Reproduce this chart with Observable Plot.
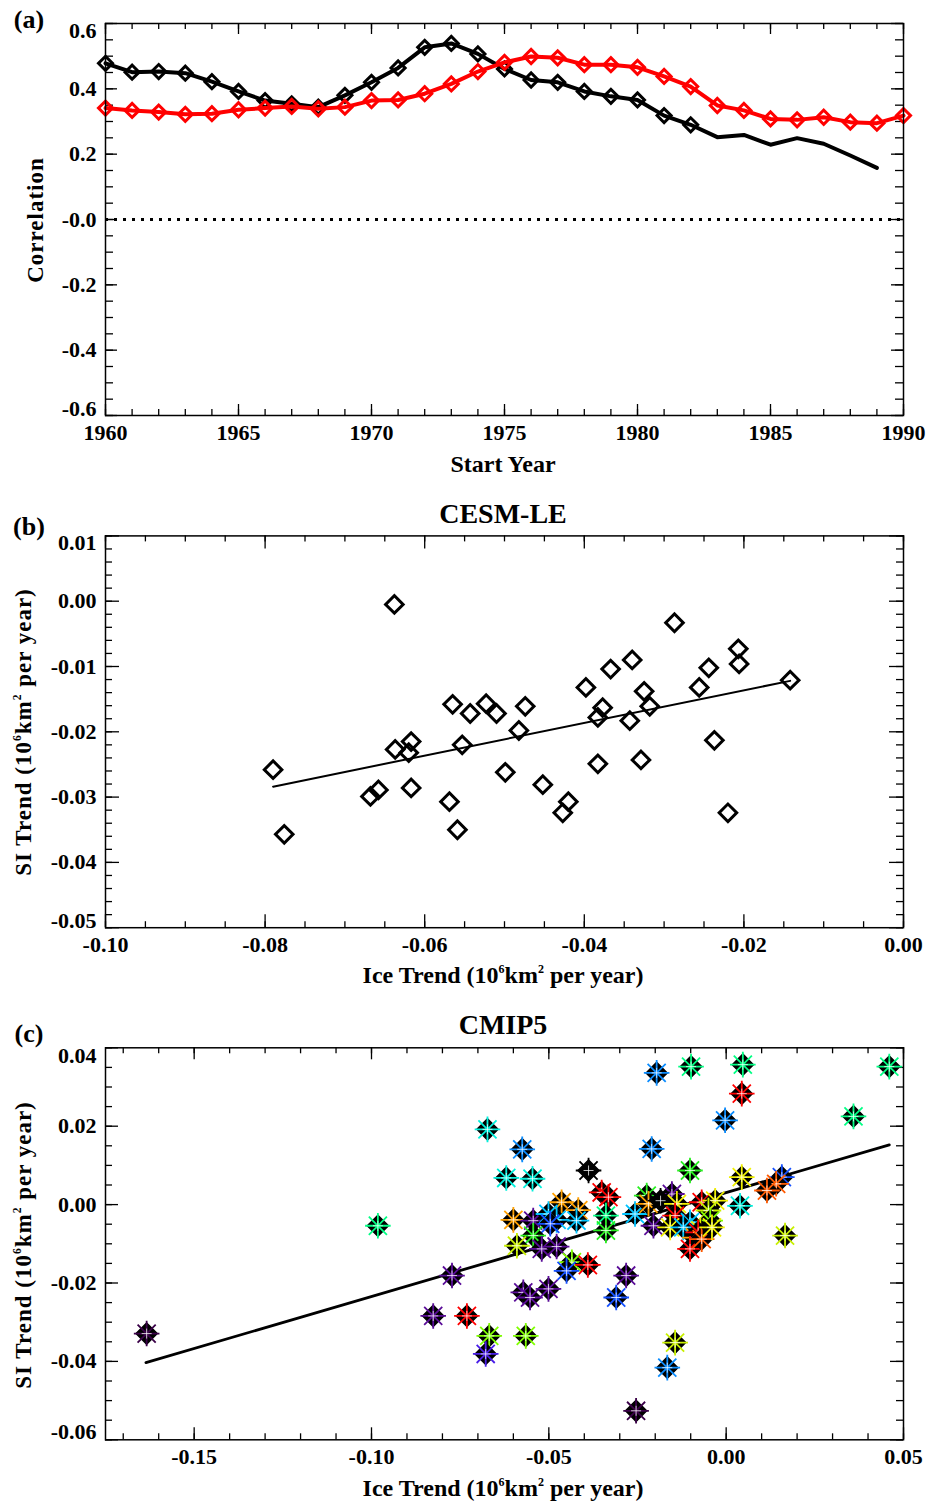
<!DOCTYPE html>
<html>
<head>
<meta charset="utf-8">
<script src="https://cdn.jsdelivr.net/npm/d3@7"></script>
<script src="https://cdn.jsdelivr.net/npm/@observablehq/plot@0.6"></script>
<style>
  body { margin: 0; background: white; }
  #fig { position: relative; width: 934px; height: 1501px; font-family: "Liberation Serif", "Times New Roman", serif; font-weight: bold; color: black; }
  .panel { position: absolute; left: 0; z-index: 1; }
  .t { position: absolute; z-index: 2; transform: translate(-50%, -50%); white-space: nowrap; line-height: 1; }
  .rot { transform: translate(-50%, -50%) rotate(-90deg); }
  sup { font-size: 0.5em; vertical-align: 0.8em; line-height: 0; }
</style>
</head>
<body>
<div id="fig">
  <div id="pa" class="panel" style="top:0px"></div>
  <div id="pb" class="panel" style="top:500px"></div>
  <div id="pc" class="panel" style="top:1010px"></div>

  <div class="t" style="left:29px;top:20px;font-size:26px">(a)</div>
  <div class="t rot" style="left:35px;top:220px;font-size:23px;letter-spacing:1px">Correlation</div>
  <div class="t" style="left:503px;top:464px;font-size:24px">Start Year</div>

  <div class="t" style="left:29px;top:527px;font-size:26px">(b)</div>
  <div class="t" style="left:503px;top:514px;font-size:28px">CESM-LE</div>
  <div class="t rot" style="left:23px;top:732px;font-size:23px;letter-spacing:1px">SI Trend (10<sup>6</sup>km<sup>2</sup> per year)</div>
  <div class="t" style="left:503px;top:975px;font-size:24px">Ice Trend (10<sup>6</sup>km<sup>2</sup> per year)</div>

  <div class="t" style="left:29px;top:1034px;font-size:26px">(c)</div>
  <div class="t" style="left:503px;top:1025px;font-size:28px">CMIP5</div>
  <div class="t rot" style="left:23px;top:1245px;font-size:23px;letter-spacing:1px">SI Trend (10<sup>6</sup>km<sup>2</sup> per year)</div>
  <div class="t" style="left:503px;top:1488px;font-size:24px">Ice Trend (10<sup>6</sup>km<sup>2</sup> per year)</div>
</div>
<script>
// ---------------- Panel (a) data ----------------
const yearsBlack = [1960,1961,1962,1963,1964,1965,1966,1967,1968,1969,1970,1971,1972,1973,1974,1975,1976,1977,1978,1979,1980,1981,1982,1983,1984,1985,1986,1987,1988,1989];
const corrBlack  = [0.478,0.451,0.453,0.448,0.422,0.392,0.364,0.354,0.344,0.380,0.420,0.464,0.527,0.539,0.507,0.461,0.427,0.420,0.392,0.377,0.366,0.318,0.290,0.252,0.259,0.229,0.249,0.232,0.196,0.158];
const blackMarkedThrough = 1982;
const yearsRed = [1960,1961,1962,1963,1964,1965,1966,1967,1968,1969,1970,1971,1972,1973,1974,1975,1976,1977,1978,1979,1980,1981,1982,1983,1984,1985,1986,1987,1988,1989,1990];
const corrRed  = [0.341,0.334,0.329,0.322,0.324,0.336,0.341,0.346,0.339,0.344,0.364,0.366,0.385,0.415,0.453,0.481,0.499,0.495,0.474,0.474,0.466,0.438,0.407,0.349,0.334,0.308,0.305,0.313,0.298,0.295,0.318];
const xTicksA = [1960,1965,1970,1975,1980,1985,1990];
const xTickLabelsA = ["1960","1965","1970","1975","1980","1985","1990"];
const yTicksA = [-0.6,-0.4,-0.2,0,0.2,0.4,0.6];
const yTickLabelsA = ["-0.6","-0.4","-0.2","-0.0","0.2","0.4","0.6"];

// ---------------- Panel (b) data: CESM-LE ----------------
const iceTrendB = [-0.0638,-0.0287,-0.0207,-0.0206,-0.0244,-0.0340,-0.0367,-0.0142,-0.0398,-0.0256,-0.0325,-0.0318,-0.0565,-0.0523,-0.0474,-0.0377,-0.0543,-0.0510,-0.0383,-0.0343,-0.0482,-0.0617,-0.0553,-0.0637,-0.0620,-0.0237,-0.0383,-0.0329,-0.0790,-0.0499,-0.0452,-0.0617,-0.0658,-0.0668,-0.0569,-0.0420,-0.0427,-0.0220,-0.0559,-0.0776];
const siTrendB  = [-0.0005,-0.0033,-0.0073,-0.0096,-0.0102,-0.0090,-0.0104,-0.0121,-0.0132,-0.0132,-0.0138,-0.0161,-0.0158,-0.0157,-0.0161,-0.0163,-0.0172,-0.0172,-0.0178,-0.0183,-0.0198,-0.0215,-0.0220,-0.0227,-0.0232,-0.0213,-0.0249,-0.0243,-0.0258,-0.0262,-0.0281,-0.0286,-0.0289,-0.0299,-0.0307,-0.0307,-0.0324,-0.0324,-0.0350,-0.0357];
const fitXB = [-0.0790, -0.0142];
const fitYB = [-0.0284, -0.0122];
const xTicksB = [-0.10,-0.08,-0.06,-0.04,-0.02,0.00];
const xTickLabelsB = ["-0.10","-0.08","-0.06","-0.04","-0.02","0.00"];
const yTicksB = [-0.05,-0.04,-0.03,-0.02,-0.01,0.00,0.01];
const yTickLabelsB = ["-0.05","-0.04","-0.03","-0.02","-0.01","0.00","0.01"];

// ---------------- Panel (c) data: CMIP5 ----------------
const iceTrendC = [-0.1634,-0.0982,-0.0673,-0.0575,-0.0620,-0.0546,-0.0196,-0.0099,0.0047,0.0044,-0.0003,0.0460,0.0359,-0.0210,-0.0388,-0.0102,0.0044,0.0157,0.0141,0.0115,0.0039,0.0166,-0.0351,-0.0332,-0.0464,-0.0417,-0.0422,-0.0600,-0.0544,-0.0501,-0.0478,-0.0496,-0.0339,-0.0339,-0.0544,-0.0590,-0.0520,-0.0478,-0.0435,-0.0390,-0.0450,-0.0282,-0.0773,-0.0572,-0.0553,-0.0501,-0.0310,-0.0826,-0.0731,-0.0668,-0.0565,-0.0678,-0.0144,-0.0166,-0.0254,-0.0257,-0.0224,-0.0219,-0.0153,-0.0205,-0.0185,-0.0139,-0.0069,-0.0031,-0.0144,-0.0102,-0.0158,-0.0050,-0.0045,-0.0073,-0.0121,-0.0088,-0.0079,-0.0102,-0.0069,-0.0040];
const siTrendC  = [-0.0329,-0.0054,0.0192,0.0141,0.0068,0.0066,0.0336,0.0352,0.0357,0.0283,0.0215,0.0352,0.0225,0.0142,0.0087,0.0087,0.0070,0.0070,0.0053,0.0036,-0.0003,-0.0079,0.0031,0.0019,0.0006,-0.0014,-0.0041,-0.0039,-0.0041,-0.0024,-0.0039,-0.0049,-0.0028,-0.0066,-0.0079,-0.0105,-0.0113,-0.0107,-0.0147,-0.0154,-0.0169,-0.0181,-0.0181,-0.0224,-0.0237,-0.0215,-0.0237,-0.0284,-0.0284,-0.0335,-0.0335,-0.0381,-0.0352,-0.0416,-0.0526,-0.0024,0.0023,0.0002,0.0027,-0.0054,0.0010,0.0002,0.0006,0.0010,-0.0028,-0.0045,-0.0058,-0.0015,-0.0041,-0.0066,-0.0058,-0.0084,-0.0071,-0.0113,-0.0088,-0.0058];
const modelC    = [1,8,7,5,7,7,5,8,8,15,5,8,8,5,0,9,12,4,14,14,7,11,15,15,13,13,6,13,2,6,6,4,8,9,9,11,2,2,10,15,4,2,2,2,2,2,4,2,15,10,10,3,11,5,1,6,9,13,2,2,0,12,15,12,15,6,12,11,10,12,6,13,15,15,14,12];
const fitXC = [-0.1636, 0.0460];
const fitYC = [-0.0403, 0.01525];
const xTicksC = [-0.15,-0.10,-0.05,0.00,0.05];
const xTickLabelsC = ["-0.15","-0.10","-0.05","0.00","0.05"];
const yTicksC = [-0.06,-0.04,-0.02,0.00,0.02,0.04];
const yTickLabelsC = ["-0.06","-0.04","-0.02","0.00","0.02","0.04"];
const modelPalette = ["#000000","#3a0048","#5a0c98","#4a1ee8","#1450ff","#0a8cff","#00c4ff","#00f0dc","#00ff84","#28f020","#80ff00","#c8f000","#f0f000","#ffa000","#ff5a00","#ff0000"];

// ---------------- helpers ----------------
const W = 934, ML = 105, MR = 31;
const font = {fontFamily: "'Liberation Serif','Times New Roman',serif", fontWeight: "bold", fontSize: "22px", background: "white", overflow: "visible"};

function frameTicks(vals, dim, len, innerW, innerH) {
  const o = {stroke: "black", strokeWidth: 1.3};
  if (dim === "x") return [
    Plot.tickX(vals, {x: d => d, insetTop: innerH - len, ...o}),
    Plot.tickX(vals, {x: d => d, insetBottom: innerH - len, ...o})
  ];
  return [
    Plot.tickY(vals, {y: d => d, insetRight: innerW - len, ...o}),
    Plot.tickY(vals, {y: d => d, insetLeft: innerW - len, ...o})
  ];
}
function label(ticks, labels) { return d => labels[ticks.indexOf(d)]; }
function axes(xt, xl, yt, yl, shiftEnds) {
  const yf = label(yt, yl);
  const inner = yt.slice(1, -1);
  return [
    Plot.axisX({ticks: xt, tickFormat: label(xt, xl), tickSize: 0, tickPadding: 9, label: null}),
    Plot.axisY({ticks: inner, tickFormat: yf, tickSize: 0, tickPadding: 9, label: null}),
    Plot.axisY({ticks: [yt[yt.length - 1]], tickFormat: yf, tickSize: 0, tickPadding: 9, label: null, dy: shiftEnds}),
    Plot.axisY({ticks: [yt[0]], tickFormat: yf, tickSize: 0, tickPadding: 9, label: null, dy: -shiftEnds})
  ];
}
const square45 = {symbol: "square", rotate: 45};
const star8 = {draw(ctx, size) {
  const r = Math.sqrt(size / Math.PI);
  for (let k = 0; k < 8; k++) { const a = k * Math.PI / 4; ctx.moveTo(0, 0); ctx.lineTo(r * Math.cos(a), r * Math.sin(a)); }
}};
const plus4 = {draw(ctx, size) {
  const r = Math.sqrt(size / Math.PI);
  ctx.moveTo(-r, 0); ctx.lineTo(r, 0); ctx.moveTo(0, -r); ctx.lineTo(0, r);
}};

// ---------------- Panel (a) ----------------
{
  const H = 490, MT = 23, MB = 75;
  const iw = W - ML - MR, ih = H - MT - MB;
  const black = yearsBlack.map((y, i) => ({year: y, r: corrBlack[i]}));
  const red = yearsRed.map((y, i) => ({year: y, r: corrRed[i]}));
  const xMinor = d3.range(1960, 1991);
  const yMinor = d3.range(-12, 13).map(k => k * 0.05);
  const chart = Plot.plot({
    width: W, height: H, marginLeft: ML, marginRight: MR, marginTop: MT, marginBottom: MB,
    x: {domain: [1960, 1990]}, y: {domain: [-0.6, 0.6]},
    style: font,
    marks: [
      Plot.ruleY([0], {stroke: "black", strokeWidth: 3, strokeDasharray: "3,6"}),
      ...frameTicks(xMinor, "x", 6, iw, ih),
      ...frameTicks(xTicksA, "x", 11, iw, ih),
      ...frameTicks(yMinor, "y", 8, iw, ih),
      ...frameTicks(yTicksA, "y", 12, iw, ih),
      Plot.line(black, {x: "year", y: "r", stroke: "black", strokeWidth: 4}),
      Plot.dot(black.filter(d => d.year <= blackMarkedThrough), {x: "year", y: "r", ...square45, r: 5.6, stroke: "black", strokeWidth: 3, fill: "none"}),
      Plot.line(red, {x: "year", y: "r", stroke: "#ff0000", strokeWidth: 4}),
      Plot.dot(red, {x: "year", y: "r", ...square45, r: 5.6, stroke: "#ff0000", strokeWidth: 3, fill: "none"}),
      Plot.frame({stroke: "black", strokeWidth: 1.5}),
      ...axes(xTicksA, xTickLabelsA, yTicksA, yTickLabelsA, 7)
    ]
  });
  document.getElementById("pa").append(chart);
}

// ---------------- Panel (b) ----------------
{
  const H = 490, MT = 35.4, MB = 62.8;
  const iw = W - ML - MR, ih = H - MT - MB;
  const pts = iceTrendB.map((x, i) => ({ice: x, si: siTrendB[i]}));
  const fit = fitXB.map((x, i) => ({ice: x, si: fitYB[i]}));
  const xMinor = d3.range(-20, 1).map(k => k * 0.005);
  const yMinor = d3.range(-25, 6).map(k => k * 0.002);
  const chart = Plot.plot({
    width: W, height: H, marginLeft: ML, marginRight: MR, marginTop: MT, marginBottom: MB,
    x: {domain: [-0.10, 0.00]}, y: {domain: [-0.05, 0.01]},
    style: font,
    marks: [
      ...frameTicks(xMinor, "x", 6, iw, ih),
      ...frameTicks(xTicksB, "x", 13, iw, ih),
      ...frameTicks(yMinor, "y", 7, iw, ih),
      ...frameTicks(yTicksB, "y", 14, iw, ih),
      Plot.line(fit, {x: "ice", y: "si", stroke: "black", strokeWidth: 2}),
      Plot.dot(pts, {x: "ice", y: "si", ...square45, r: 7, stroke: "black", strokeWidth: 3, fill: "none"}),
      Plot.frame({stroke: "black", strokeWidth: 1.5}),
      ...axes(xTicksB, xTickLabelsB, yTicksB, yTickLabelsB, 7)
    ]
  });
  document.getElementById("pb").append(chart);
}

// ---------------- Panel (c) ----------------
{
  const H = 491, MT = 37.3, MB = 61.7;
  const iw = W - ML - MR, ih = H - MT - MB;
  const pts = iceTrendC.map((x, i) => ({ice: x, si: siTrendC[i], model: modelC[i]}));
  const fit = fitXC.map((x, i) => ({ice: x, si: fitYC[i]}));
  const xMinor = d3.range(-17, 6).map(k => k * 0.01);
  const yMinor = d3.range(-12, 9).map(k => k * 0.005);
  const pointMarks = pts.flatMap(d => [
    Plot.dot([d], {x: "ice", y: "si", ...square45, r: 8.4, fill: "black", stroke: "black", strokeWidth: 1.5}),
    Plot.dot([d], {x: "ice", y: "si", symbol: star8, r: 12.8, fill: "none", stroke: "model", strokeWidth: 1.8}),
    Plot.dot([d], {x: "ice", y: "si", symbol: plus4, r: 5, fill: "none", stroke: "white", strokeWidth: 1, strokeOpacity: 0.75})
  ]);
  const chart = Plot.plot({
    width: W, height: H, marginLeft: ML, marginRight: MR, marginTop: MT, marginBottom: MB,
    x: {domain: [-0.175, 0.05]}, y: {domain: [-0.06, 0.04]},
    color: {type: "ordinal", domain: modelPalette.map((c, i) => i), range: modelPalette},
    style: font,
    marks: [
      ...frameTicks(xMinor, "x", 6, iw, ih),
      ...frameTicks(xTicksC, "x", 12, iw, ih),
      ...frameTicks(yMinor, "y", 7, iw, ih),
      ...frameTicks(yTicksC, "y", 13, iw, ih),
      Plot.line(fit, {x: "ice", y: "si", stroke: "black", strokeWidth: 2.8}),
      ...pointMarks,
      Plot.frame({stroke: "black", strokeWidth: 1.5}),
      ...axes(xTicksC, xTickLabelsC, yTicksC, yTickLabelsC, 8)
    ]
  });
  document.getElementById("pc").append(chart);
}
</script>
</body>
</html>
